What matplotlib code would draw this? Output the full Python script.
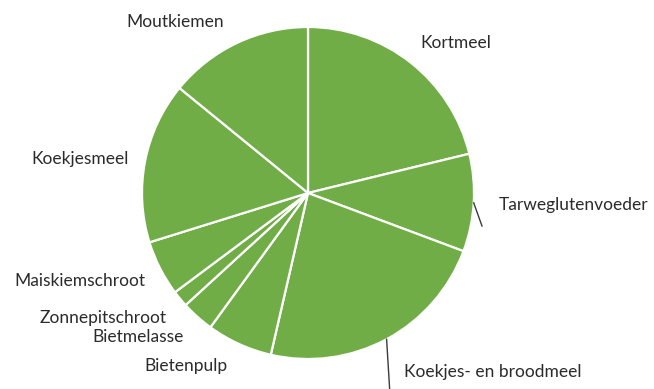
import numpy as np
import matplotlib.pyplot as plt

# ----------------------------
# DATA (share in %)
# ----------------------------
categories = [
    "Kortmeel",
    "Tarweglutenvoeder",
    "Koekjes- en broodmeel",
    "Bietenpulp",
    "Bietmelasse",
    "Zonnepitschroot",
    "Maiskiemschroot",
    "Koekjesmeel",
    "Moutkiemen",
]
shares = [21.2, 9.5, 22.9, 6.4, 3.2, 1.6, 5.4, 15.7, 14.1]

# ----------------------------
# LAYOUT (pixel coords, origin top-left)
# ----------------------------
W, H = 654, 389
CENTER = (308, 193)
RADIUS = 166
label_pos = {
    "Kortmeel": (456, 43),
    "Tarweglutenvoeder": (574, 205),
    "Koekjes- en broodmeel": (493, 372),
    "Bietenpulp": (186, 366),
    "Bietmelasse": (138, 337),
    "Zonnepitschroot": (103, 318),
    "Maiskiemschroot": (80, 281),
    "Koekjesmeel": (80, 159),
    "Moutkiemen": (175, 22),
}
# leader lines: slice -> end point of the line
leader_end = {
    "Tarweglutenvoeder": (482, 226),
    "Koekjes- en broodmeel": (390, 395),
}

GREEN = "#70AD47"
TEXT = "#2b2b2b"

plt.rcParams["font.family"] = ["Lato", "DejaVu Sans"]

fig = plt.figure(figsize=(W / 100, H / 100), dpi=100)
ax = fig.add_axes([0, 0, 1, 1])

cx, cy = CENTER[0], H - CENTER[1]
wedges, _ = ax.pie(
    shares,
    center=(cx, cy),
    radius=RADIUS,
    startangle=90,
    counterclock=False,
    colors=[GREEN] * len(shares),
    wedgeprops=dict(edgecolor="white", linewidth=1.6),
    frame=True,
)

for name, w in zip(categories, wedges):
    x, y = label_pos[name]
    ax.text(x, H - y, name, ha="center", va="center", fontsize=12.5, color=TEXT)
    if name in leader_end:
        mid = np.deg2rad((w.theta1 + w.theta2) / 2)
        x0 = cx + RADIUS * np.cos(mid)
        y0 = cy + RADIUS * np.sin(mid)
        x1, y1 = leader_end[name]
        ax.plot([x0, x1], [y0, H - y1], color="#3a3a3a", linewidth=1.0, clip_on=False)

ax.set_xlim(0, W)
ax.set_ylim(0, H)
ax.set_aspect("equal")
ax.axis("off")

fig.savefig("out.png", dpi=100)
